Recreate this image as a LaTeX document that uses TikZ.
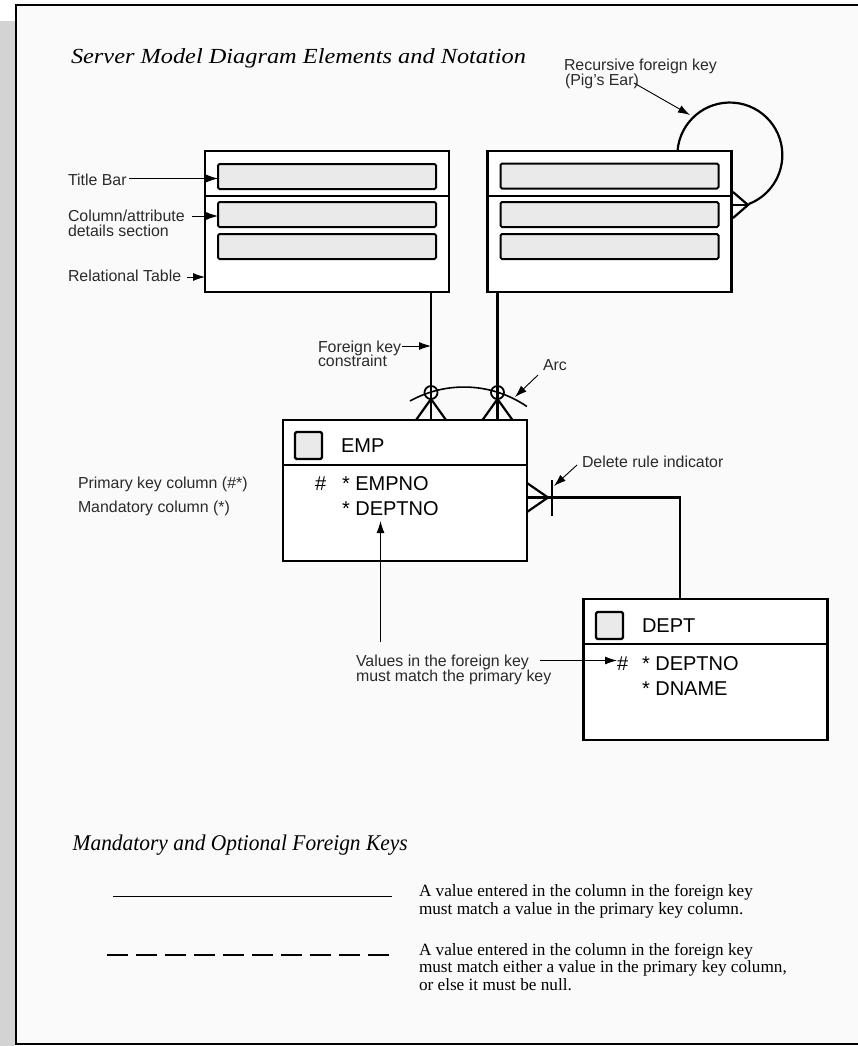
\documentclass[tikz,border=0pt]{standalone}
\usepackage{fontspec}
\setmainfont{Liberation Serif}
\setsansfont{Liberation Sans}
\usepackage{graphicx}
\usetikzlibrary{arrows.meta}
\definecolor{bgc}{HTML}{FAFAFA}
\definecolor{shadec}{HTML}{D3D3D3}
\definecolor{barc}{HTML}{EAEAEA}
\definecolor{lblc}{HTML}{2A2A2A}
\tikzset{
  every node/.style={inner sep=0pt, outer sep=0pt},
  tbl/.style={draw=black, line width=2.5pt, fill=white, minimum width=244pt, minimum height=141pt, anchor=north west},
  bar/.style={draw=black, line width=2pt, fill=barc, rounded corners=1.5pt, minimum width=218pt, minimum height=25pt, anchor=north west},
  sq/.style={draw=black, line width=2.2pt, fill=barc, rounded corners=1.5pt, minimum size=27pt, anchor=north west},
  lbl/.style={anchor=base west, font=\sffamily\fontsize{15.9}{15}\selectfont, text=lblc},
  tt/.style={anchor=base west, font=\sffamily\fontsize{20}{22}\selectfont, text=black},
  hd/.style={anchor=base west, font=\fontsize{21.5}{24}\selectfont\itshape},
  hdb/.style={anchor=base west, font=\fontsize{22.5}{24}\selectfont\itshape},
  lg/.style={anchor=base west, font=\fontsize{17.2}{18}\selectfont},
  la/.style={line width=0.9pt, -{Latex[length=12pt,width=8pt]}},
  conn/.style={line width=2.2pt},
  divl/.style={line width=2pt},
  ring/.style={circle, draw=black, line width=1.8pt, minimum size=13pt},
}
\begin{document}
\begin{tikzpicture}[x=1pt,y=-1pt]
\useasboundingbox (0,0) rectangle (858,1046);
% frame
\fill[shadec] (0,21) rectangle (14.7,1046);
\fill[bgc] (15.7,5) rectangle (858,1044);
\draw[line width=2.2pt] (858,5) -- (15.7,5) -- (15.7,1044) -- (858,1044);

% heading
\node[hd] (head1) at (71,64) {\resizebox{455pt}{\height}{Server Model Diagram Elements and Notation}};

% table 1
\node[tbl] (T1) at (205,151) {};
\node[bar] (T1a) at (218,164) {};
\node[bar] (T1b) at (218,202) {};
\node[bar] (T1c) at (218,234) {};
\coordinate (T1d) at (205,195.7);
\draw[divl] (T1d) -- (T1d -| T1.east);

% table 2
\node[tbl] (T2) at (487.5,151) {};
\node[bar] (T2a) at (500.5,163.5) {};
\node[bar] (T2b) at (500.5,202) {};
\node[bar] (T2c) at (500.5,234) {};
\coordinate (T2d) at (487.5,195.7);
\draw[divl] (T2d) -- (T2d -| T2.east);

% EMP
\node[tbl] (EMP) at (283,420) {};
\coordinate (EMPd) at (283,464.5);
\draw[divl] (EMPd) -- (EMPd -| EMP.east);
\node[sq] (EMPsq) at (295,432) {};
\node[tt] (EMPt) at (341,452) {EMP};
\node[tt] (EMPh) at (315,490) {\#};
\node[tt] (EMPc1) at (342,490) {* EMPNO};
\node[tt] (EMPc2) at (342,515) {* DEPTNO};

% DEPT
\node[tbl] (DEPT) at (583.5,599) {};
\coordinate (DEPTd) at (583.5,644);
\draw[divl] (DEPTd) -- (DEPTd -| DEPT.east);
\node[sq] (DEPTsq) at (596,612) {};
\node[tt] (DEPTt) at (642,632) {DEPT};
\node[tt] (DEPTh) at (617,670) {\#};
\node[tt] (DEPTc1) at (642,670) {* DEPTNO};
\node[tt] (DEPTc2) at (642,695) {* DNAME};

% foreign keys from T1 and T2 to EMP
\coordinate (fk1) at (431,0);
\coordinate (fk2) at (497.5,0);
\draw[conn] (T1.south -| fk1) -- (EMP.north -| fk1);
\draw[conn] (T2.south -| fk2) -- (EMP.north -| fk2);
\node[ring] (o1) at (431,392.5) {};
\node[ring] (o2) at (497.5,392.5) {};
\coordinate (f1l) at (416,420); \coordinate (f1r) at (446,420);
\coordinate (f2l) at (482.5,420); \coordinate (f2r) at (512.5,420);
\draw[conn] (f1l) -- (o1.south) -- (f1r);
\draw[conn] (f2l) -- (o2.south) -- (f2r);
\coordinate (arcS) at (410,401);
\draw[line width=1.6pt] (arcS) arc[start angle=-119, end angle=-55.6, radius=111.4];

% pig's ear
\coordinate (pigS) at (677.5,151);
\coordinate (pigA) at (748,205);
\draw[conn] (pigS) arc[start angle=184.4, end angle=429, radius=52.5];
\draw[conn] (pigA -| T2.east) -- (pigA);
\coordinate (pf1) at (733,192); \coordinate (pf2) at (733,218);
\draw[conn] (pf1) -- (pigA) -- (pf2);

% EMP -> DEPT
\coordinate (ea) at (548,497.5);
\coordinate (ecorner) at (680,497.5);
\draw[conn] (EMP.east |- ea) -- (ecorner) -- (ecorner |- DEPT.north);
\coordinate (ef1) at (527,483); \coordinate (ef2) at (527,512);
\draw[conn] (ef1) -- (ea) -- (ef2);
\coordinate (db1) at (552,480); \coordinate (db2) at (552,516);
\draw[conn] (db1) -- (db2);

% labels
\node[lbl] (lTitle) at (68,185) {Title Bar};
\coordinate (aTitle) at (129,178.5);
\draw[la] (aTitle) -- (aTitle -| T1a.west);
\node[lbl] (lCol1) at (68,221.7) {Column/attribute};
\node[lbl] (lCol2) at (68,236.7) {details section};
\coordinate (aCol) at (192,216);
\draw[la] (aCol) -- (aCol -| T1b.west);
\node[lbl] (lRel) at (68,281.7) {Relational Table};
\coordinate (aRel) at (187,277);
\draw[la] (aRel) -- (aRel -| T1.west);

\node[lbl] (lFk1) at (318,352) {Foreign key};
\node[lbl] (lFk2) at (318,366.5) {constraint};
\coordinate (aFk) at (402,346);
\draw[la] (aFk) -- (aFk -| fk1);

\node[lbl] (lArc) at (543,370.5) {Arc};
\coordinate (aArc1) at (538,375); \coordinate (aArc2) at (515,397);
\draw[la] (aArc1) -- (aArc2);

\node[lbl] (lRec1) at (564,71) {Recursive foreign key};
\node[lbl] (lRec2) at (565,86) {(Pig's Ear)};
\coordinate (aRec1) at (634,83); \coordinate (aRec2) at (690,115);
\draw[la] (aRec1) -- (aRec2);

\node[lbl] (lDel) at (582,467.3) {Delete rule indicator};
\coordinate (aDel1) at (577,465); \coordinate (aDel2) at (554,486);
\draw[la] (aDel1) -- (aDel2);

\node[lbl] (lPk) at (78,488) {Primary key column (\#*)};
\node[lbl] (lMand) at (78,512.7) {Mandatory column (*)};

\node[lbl] (lVal1) at (356,666) {Values in the foreign key};
\node[lbl] (lVal2) at (356,681) {must match the primary key};
\coordinate (aVal) at (540,660.5);
\draw[la] (aVal) -- (aVal -| DEPTh.west);
\coordinate (aUp1) at (380.5,642); \coordinate (aUp2) at (380.5,521);
\draw[la] (aUp1) -- (aUp2);

% legend
\node[hdb] (head2) at (72.7,850) {\resizebox{335pt}{\height}{Mandatory and Optional Foreign Keys}};
\coordinate (s1) at (113,896.5); \coordinate (s2) at (392,896.5);
\draw[line width=1.4pt] (s1) -- (s2);
\coordinate (d1) at (107,955); \coordinate (d2) at (390,955);
\draw[line width=1.4pt, dash pattern=on 21pt off 8pt] (d1) -- (d2);
\node[lg] (g1a) at (419,896.7) {A value entered in the column in the foreign key};
\node[lg] (g1b) at (419,914) {must match a value in the primary key column.};
\node[lg] (g2a) at (419,955) {A value entered in the column in the foreign key};
\node[lg] (g2b) at (419,972.7) {must match either a value in the primary key column,};
\node[lg] (g2c) at (419,990) {or else it must be null.};
\end{tikzpicture}
\end{document}
